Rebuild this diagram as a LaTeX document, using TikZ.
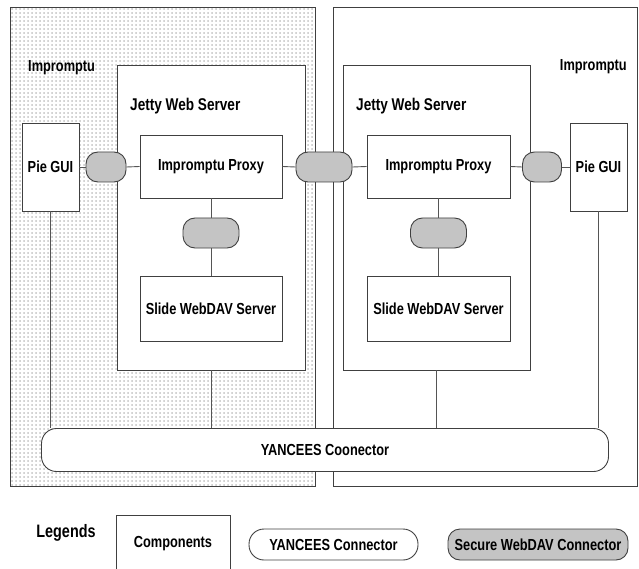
\documentclass[tikz,border=0pt]{standalone}
\usepackage{fontspec}
\setmainfont{Liberation Sans}[FakeStretch=0.8]
\usetikzlibrary{patterns.meta}
\tikzdeclarepattern{
  name=mydots, type=uncolored,
  bottom left={(-.5pt,-.5pt)}, top right={(3.5pt,3.5pt)},
  tile size={(4pt,4pt)},
  code={\fill (0,0) circle (0.7pt);}
}
\definecolor{edge}{HTML}{404040}
\definecolor{wire}{HTML}{555555}
\definecolor{conngray}{HTML}{C4C4C4}
\tikzset{
  comp/.style={draw=edge, line width=0.9pt, fill=white, inner sep=0pt,
    font=\bfseries\fontsize{16}{18}\selectfont},
  sconn/.style={draw=edge, line width=0.9pt, fill=conngray, rounded corners=12pt, inner sep=0pt,
    font=\bfseries\fontsize{16}{18}\selectfont},
  yconn/.style={draw=edge, line width=0.9pt, fill=white, rounded corners=15pt, inner sep=0pt,
    font=\bfseries\fontsize{16}{18}\selectfont},
  lbl/.style={font=\bfseries\fontsize{16}{18}\selectfont, inner sep=0pt},
  wireline/.style={draw=wire, line width=0.9pt}
}
\begin{document}
\begin{tikzpicture}[x=1pt,y=-1pt]
\useasboundingbox (0,0) rectangle (639,569);
% outer boxes
\node[draw=edge, line width=0.9pt, pattern={mydots}, pattern color=black!75, minimum width=305pt, minimum height=479pt, inner sep=0pt] (impL) at (162.5,246.5) {};
\node[comp, minimum width=304pt, minimum height=479pt] (impR) at (485,246.5) {};
\node[lbl, anchor=west] (impLlab) at (28,68) {Impromptu};
\node[lbl, anchor=east] (impRlab) at (627,67) {Impromptu};
% jetty boxes
\node[comp, minimum width=188pt, minimum height=305pt] (jetL) at (211,217.5) {};
\node[comp, minimum width=187pt, minimum height=305pt] (jetR) at (436.5,217.5) {};
\node[lbl, anchor=west, font=\bfseries\fontsize{17}{19}\selectfont] (jetLlab) at (130,106) {Jetty Web Server};
\node[lbl, anchor=west, font=\bfseries\fontsize{17}{19}\selectfont] (jetRlab) at (356,106) {Jetty Web Server};
% components
\node[comp, minimum width=57pt, minimum height=88pt] (pieL) at (50.5,167) {Pie GUI};
\node[comp, minimum width=57pt, minimum height=88pt] (pieR) at (598.5,167) {Pie GUI};
\node[comp, minimum width=142pt, minimum height=63pt] (proxL) at (211,166.5) {Impromptu Proxy};
\node[comp, minimum width=143pt, minimum height=63pt] (proxR) at (438.5,166.5) {Impromptu Proxy};
\node[comp, minimum width=142pt, minimum height=65pt] (slideL) at (211,308.5) {Slide WebDAV Server};
\node[comp, minimum width=143pt, minimum height=65pt] (slideR) at (438.5,308.5) {Slide WebDAV Server};
% secure connectors
\node[sconn, minimum width=40pt, minimum height=30pt] (c1) at (106,167) {};
\node[sconn, minimum width=56pt, minimum height=30pt] (c2) at (324,167) {};
\node[sconn, minimum width=39pt, minimum height=30pt] (c3) at (542,167) {};
\node[sconn, minimum width=56pt, minimum height=30pt] (vL) at (211,233) {};
\node[sconn, minimum width=56pt, minimum height=30pt] (vR) at (438.5,233) {};
% wires
\draw[wireline] (pieL.east) -- (c1.west);
\draw[wireline] (c1.east) -- (proxL.west);
\draw[wireline] (proxL.east) -- (c2.west);
\draw[wireline] (c2.east) -- (proxR.west);
\draw[wireline] (proxR.east) -- (c3.west);
\draw[wireline] (c3.east) -- (pieR.west);
\draw[wireline] (proxL.south) -- (vL.north);
\draw[wireline] (vL.south) -- (slideL.north);
\draw[wireline] (proxR.south) -- (vR.north);
\draw[wireline] (vR.south) -- (slideR.north);
% YANCEES connector
\node[yconn, minimum width=567pt, minimum height=43pt] (yan) at (325,450) {YANCEES Coonector};
\draw[wireline] (pieL.south) -- (pieL.south |- yan.north);
\draw[wireline] (jetL.south) -- (jetL.south |- yan.north);
\draw[wireline] (jetR.south) -- (jetR.south |- yan.north);
\draw[wireline] (pieR.south) -- (pieR.south |- yan.north);
% legends
\node[lbl, font=\bfseries\fontsize{18}{20}\selectfont] (leg) at (66,533) {Legends};
\node[comp, minimum width=114pt, minimum height=62pt] (legcomp) at (173,546) {};
\node[lbl] (legcomptxt) at (173,544) {Components};
\node[yconn, minimum width=169pt, minimum height=31pt] (legy) at (333.5,544.5) {YANCEES Connector};
\node[sconn, minimum width=180pt, minimum height=31pt] (legs) at (538,544.5) {Secure WebDAV Connector};
\end{tikzpicture}
\end{document}
